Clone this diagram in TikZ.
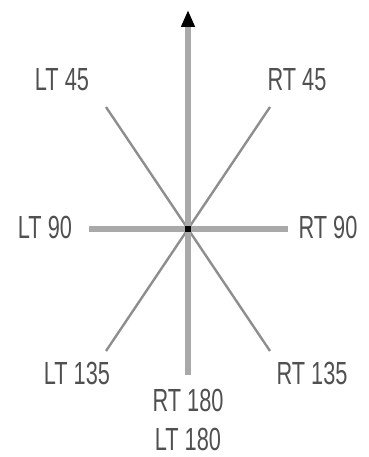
\documentclass[tikz,border=0pt]{standalone}
\usepackage{fontspec}
\setmainfont{Liberation Sans}[FakeStretch=0.68]
\usepackage{tikz}
\usetikzlibrary{arrows.meta}
\definecolor{axisGray}{HTML}{A9A9A9}
\definecolor{diagGray}{HTML}{8E8E8E}
\definecolor{labelText}{HTML}{505050}

\begin{document}
\begin{tikzpicture}[
  x=1pt, y=-1pt,
  every node/.style={font=\fontsize{32}{39}\selectfont, text=labelText, inner sep=0pt},
  axis/.style={draw=axisGray, line width=6pt},
  diag/.style={draw=diagGray, line width=2.4pt},
  heading/.style={axis, -{Triangle[black, length=17pt, width=13pt]}},
  hub/.style={rectangle, fill=black, minimum size=6.5pt, inner sep=0pt},
]
  \useasboundingbox (0,0) rectangle (368,457);

  % ends of the spokes
  \coordinate (top)    at (188, 10);
  \coordinate (bottom) at (188, 375);
  \coordinate (left)   at (89, 229);
  \coordinate (right)  at (288, 229);
  \coordinate (ul)     at (106, 107);
  \coordinate (ur)     at (270, 107);
  \coordinate (ll)     at (106, 351);
  \coordinate (lr)     at (270, 351);

  \node[hub] at (188, 229) (mid) {};

  \draw[diag] (ul) -- (mid.center) -- (lr);
  \draw[diag] (ur) -- (mid.center) -- (ll);
  \draw[axis] (left) -- (right);
  \draw[heading] (bottom) -- (top);
  \node[hub] at (mid) {};

  \node at (62, 80)   (lt45)  {LT 45};
  \node at (297, 80)  (rt45)  {RT 45};
  \node at (45, 227)  (lt90)  {LT 90};
  \node at (328, 227) (rt90)  {RT 90};
  \node at (77, 373)  (lt135) {LT 135};
  \node at (312, 373) (rt135) {RT 135};
  \node[align=center] at (188, 420) (back) {RT 180\\LT 180};
\end{tikzpicture}
\end{document}
